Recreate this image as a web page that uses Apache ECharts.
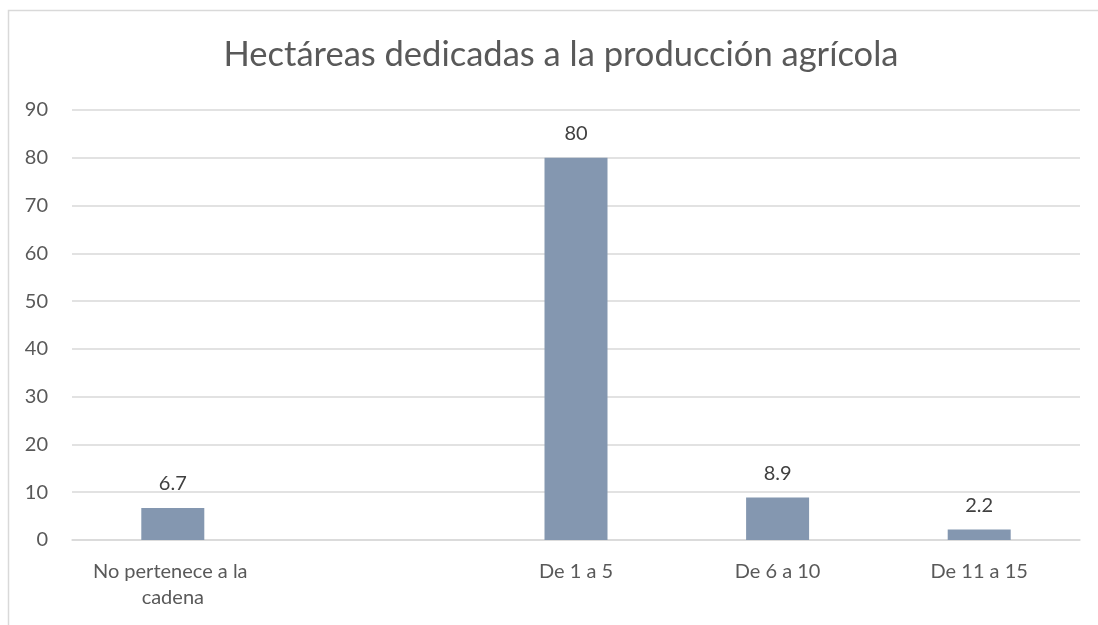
<!DOCTYPE html>
<html><head><meta charset="utf-8">
<script src="https://cdn.jsdelivr.net/npm/echarts@6/dist/echarts.min.js"></script>
<style>html,body{margin:0;padding:0;background:#fff;overflow:hidden}#c{width:1098px;height:625px}</style>
</head><body><div id="c"></div>
<script>
var categories = ['No pertenece a la cadena', '', 'De 1 a 5', 'De 6 a 10', 'De 11 a 15'];
var values = [6.7, null, 80, 8.9, 2.2];
var yTicks = [0, 10, 20, 30, 40, 50, 60, 70, 80, 90];
var title = 'Hectáreas dedicadas a la producción agrícola';

var chart = echarts.init(document.getElementById('c'));
var F = 'Lato, "Open Sans", sans-serif';
chart.setOption({
  animation: false,
  graphic: [{
    type: 'rect', shape: {x: 8.5, y: 10.5, width: 1300, height: 800},
    style: {fill: 'none', stroke: '#d9d9d9', lineWidth: 1.5}, silent: true
  }],
  title: {
    text: title, left: 556, top: 32, textAlign: 'center',
    textStyle: {fontFamily: F, fontSize: 34.5, fontWeight: 'normal', color: '#595959'}
  },
  grid: {left: 72, right: 18, top: 110, bottom: 85},
  xAxis: {
    type: 'category', data: categories,
    axisLine: {show: true, lineStyle: {color: '#d9d9d9', width: 1.5}},
    axisTick: {show: false},
    axisLabel: {
      interval: 0, margin: 19, color: '#595959', fontFamily: F, fontSize: 20,
      lineHeight: 26, width: 185, overflow: 'break'
    }
  },
  yAxis: {
    type: 'value', min: yTicks[0], max: yTicks[yTicks.length - 1], interval: 10,
    axisLine: {show: false}, axisTick: {show: false},
    splitLine: {lineStyle: {color: '#d9d9d9', width: 1.5}},
    axisLabel: {margin: 24, color: '#595959', fontFamily: F, fontSize: 20}
  },
  series: [{
    type: 'bar', data: values, barWidth: 63,
    itemStyle: {color: '#8497B0'},
    label: {show: true, position: 'top', distance: 14, color: '#404040', fontFamily: F, fontSize: 20}
  }]
});
</script></body></html>
